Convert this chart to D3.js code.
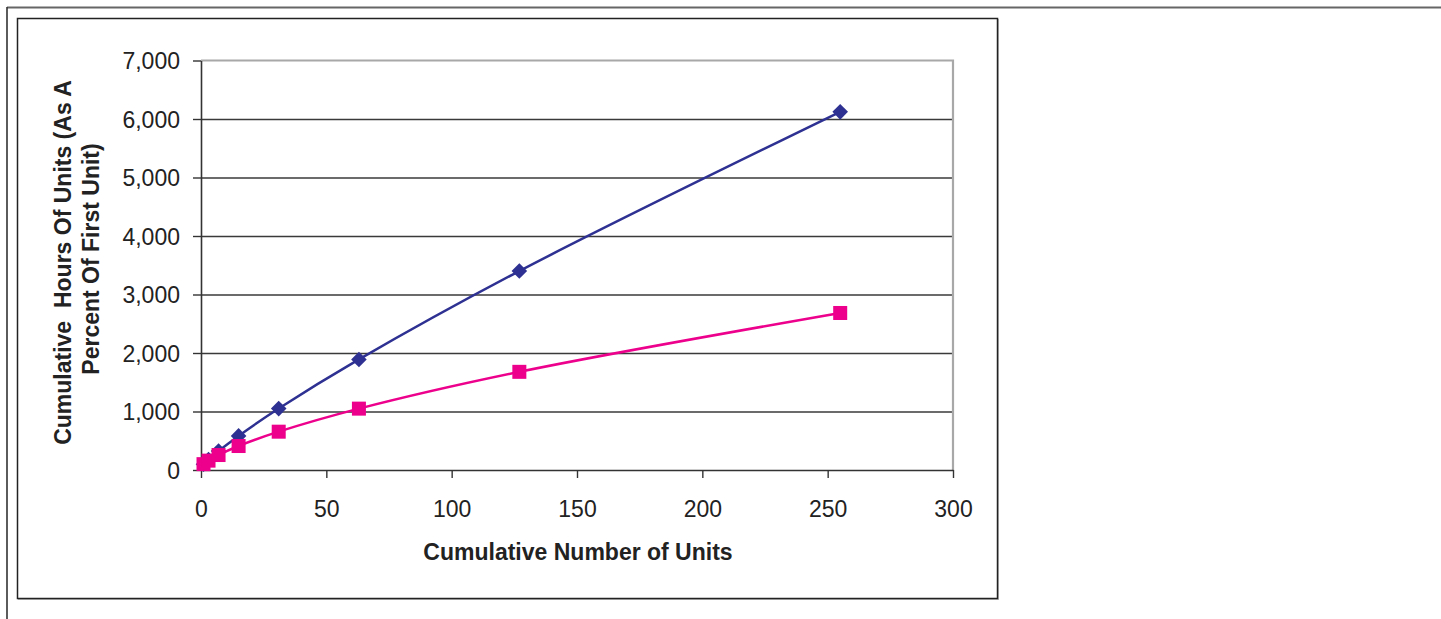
<!DOCTYPE html>
<html><head><meta charset="utf-8">
<script src="https://cdn.jsdelivr.net/npm/d3@7"></script>
<style>body{margin:0;background:#fff} svg{display:block}</style></head>
<body><svg id="c" width="1441" height="619"></svg>
<script>
const units = [1, 3, 7, 15, 31, 63, 127, 255];
const seriesBlue = [100, 180, 324, 583, 1050, 1890, 3401, 6122];
const seriesPink = [100, 160, 256, 410, 655, 1049, 1678, 2684];
const xTicks = [0, 50, 100, 150, 200, 250, 300];
const yTicks = [0, 1000, 2000, 3000, 4000, 5000, 6000, 7000];
const xTitle = "Cumulative Number of Units";
const yTitleLines = ["Cumulative  Hours Of Units (As A", "Percent Of First Unit)"];

const svg = d3.select("#c");
const FONT = "'Liberation Sans', Arial, sans-serif";
const L = 201, R = 953, T = 60.5, B = 470;

const x = d3.scaleLinear().domain([0, 300]).range([L, R]);
const y = d3.scaleLinear().domain([0, 7000]).range([B, T]);

// outer frame
svg.append("line").attr("x1", 7).attr("x2", 1441).attr("y1", 7.5).attr("y2", 7.5)
  .attr("stroke", "#666").attr("stroke-width", 2);
svg.append("line").attr("x1", 7).attr("x2", 7).attr("y1", 7).attr("y2", 619)
  .attr("stroke", "#333").attr("stroke-width", 1.6);
// inner chart box (with slight shadow)
svg.append("rect").attr("x", 18.5).attr("y", 19.5).attr("width", 980).attr("height", 580)
  .attr("fill", "none").attr("stroke", "#bbb").attr("stroke-width", 1);
svg.append("rect").attr("x", 17.5).attr("y", 18.5).attr("width", 980).attr("height", 580)
  .attr("fill", "#fff").attr("stroke", "#222").attr("stroke-width", 1.5);

// gridlines
svg.append("g").attr("transform", `translate(${L},0)`)
  .call(d3.axisLeft(y).tickValues(yTicks.filter(d => d > 0 && d < 7000)).tickSize(-(R - L)).tickFormat(""))
  .call(g => g.select(".domain").remove())
  .call(g => g.selectAll("line").attr("stroke", "#3a3a3a").attr("stroke-width", 1.3));

// plot area border (top/right gray)
svg.append("path").attr("d", `M${L},${T}H${R}V${B}`).attr("fill", "none")
  .attr("stroke", "#a8a8a8").attr("stroke-width", 2.2);

// y axis
const gy = svg.append("g").attr("transform", `translate(${L},0)`)
  .call(d3.axisLeft(y).tickValues(yTicks).tickSize(8).tickSizeOuter(0).tickFormat(d3.format(",")));
gy.select(".domain").attr("stroke", "#333").attr("stroke-width", 1.6);
gy.selectAll("line").attr("stroke", "#333").attr("stroke-width", 1.4);
gy.selectAll("text").attr("x", -21).attr("dy", "0.35em")
  .attr("text-anchor", "end").attr("font-family", FONT).attr("font-size", 23).attr("fill", "#222");

// x axis
const gx = svg.append("g").attr("transform", `translate(0,${B})`)
  .call(d3.axisBottom(x).tickValues(xTicks).tickSize(8).tickSizeOuter(0));
gx.select(".domain").attr("stroke", "#333").attr("stroke-width", 1.6);
gx.selectAll("line").attr("stroke", "#333").attr("stroke-width", 1.4);
gx.selectAll("text").attr("y", 46.5).attr("dy", null)
  .attr("text-anchor", "middle").attr("font-family", FONT).attr("font-size", 23).attr("fill", "#222");

// titles
svg.append("text").attr("x", 578).attr("y", 560)
  .attr("text-anchor", "middle").attr("font-family", FONT).attr("font-weight", "bold")
  .attr("font-size", 23).attr("fill", "#222").text(xTitle);

const ytPos = [[70.5, 262.5], [98.5, 259]];
yTitleLines.forEach((t, i) => {
  svg.append("text").attr("transform", `translate(${ytPos[i][0]},${ytPos[i][1]}) rotate(-90)`)
    .attr("text-anchor", "middle").attr("font-family", FONT).attr("font-weight", "bold")
    .attr("font-size", 23).attr("fill", "#222").style("white-space", "pre").text(t);
});

// series
const line = d3.line().curve(d3.curveCatmullRom.alpha(0.5)).x(d => x(d[0])).y(d => y(d[1]));
const blueData = units.map((u, i) => [u, seriesBlue[i]]);
const pinkData = units.map((u, i) => [u, seriesPink[i]]);
const BLUE = "#2E3192", PINK = "#EC008C";

svg.append("path").datum(blueData).attr("d", line).attr("fill", "none")
  .attr("stroke", BLUE).attr("stroke-width", 2.5);
svg.append("g").selectAll("path").data(blueData).join("path")
  .attr("transform", d => `translate(${x(d[0])},${y(d[1])})`)
  .attr("d", "M0,-7.8L7.8,0L0,7.8L-7.8,0Z").attr("fill", BLUE);

svg.append("path").datum(pinkData).attr("d", line).attr("fill", "none")
  .attr("stroke", PINK).attr("stroke-width", 2.5);
svg.append("g").selectAll("rect").data(pinkData).join("rect")
  .attr("x", d => x(d[0]) - 7).attr("y", d => y(d[1]) - 7)
  .attr("width", 14).attr("height", 14).attr("fill", PINK);
</script></body></html>
